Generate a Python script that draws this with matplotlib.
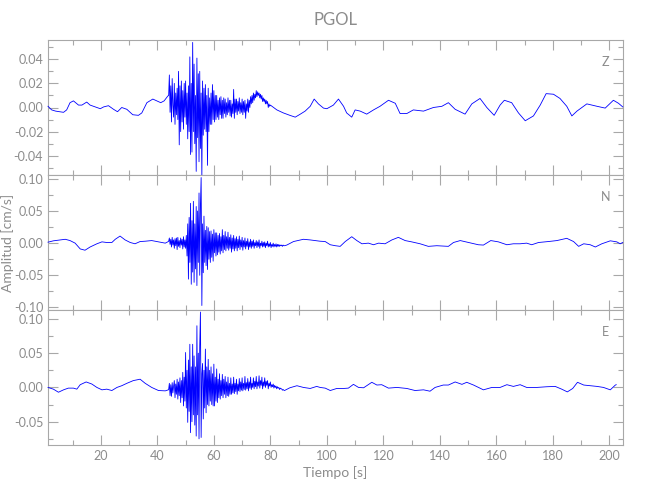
import numpy as np
import matplotlib
matplotlib.use("Agg")
import matplotlib.pyplot as plt
from matplotlib.ticker import MultipleLocator, FormatStrFormatter

plt.rcParams['font.family'] = ['Lato', 'DejaVu Sans']
plt.rcParams['font.weight'] = 'normal'

TITLE = "PGOL"
XLABEL = "Tiempo [s]"
YLABEL = "Amplitud [cm/s]"
COMPONENTS = ["Z", "N", "E"]
XLIM = (1.3, 204.8)
YLIMS = [(-0.056, 0.056), (-0.104, 0.106), (-0.084, 0.113)]
YMAJOR = [0.02, 0.05, 0.05]
YMINOR = [0.01, 0.025, 0.025]

# ---- values in units of 1e-3 cm/s, times in s ----
# Z component
z_pre_t = [1.3, 2.6, 4.0, 6.8, 7.9, 9.1, 10.3, 12.1, 13.3, 15.0, 16.2, 18.6, 19.8, 21.0,
           22.7, 24.5, 25.9, 27.4, 29.2, 31.3, 33.3, 34.5, 36.3, 38.4, 39.8, 41.2, 42.4, 43.7]
z_pre_v = [1, -2, -3, -4, -2, 4, 5.5, 2, 2, 4.5, 2, 0, -1, 0.5,
           1.5, -1.5, -3.5, 0, -1.5, -6, -6.5, -4.5, 4, 7, 5.5, 4, 5.5, 9.5]
z_burst_t0, z_burst_dt = 44.0, 0.25
z_burst_v = [10, 27, -4, 18, -12, 24, 2, -8, 20, -14, 12, -6, 16, -10, 30, -31,
             18, -20, 22, -12, 14, -18, 20, -8, 22, -14, 12, -26, 18, -20, 42, -39,
             20, -37, 54, -20, 36, -30, 10, -53, 41, -25, 28, -45, 30, -34, 12, -58,
             22, -23, 16, -18, 19, -20, 10, -48, 16, -20, 8, -14, 12, -14, 19, -10,
             14, -12, 10, -10, 10, -8, 6, -10, 8, -6, 9, -9, 6, -9, 8, -5,
             7, -8, 4, -6, 8, -4, 6, -7, 6, -8, 3, -5, 15, -9, 7, -4,
             7, -6, 5, -3, 8, -5, 4, -4, 7, -6, 5, -4, 6, -9, 3, -3,
             7, -4, 6, 0, 9, 3, 10, 4, 12, 6, 11, 8, 14, 9, 13, 10,
             12, 8, 11, 7, 10, 5, 8, 5, 7, 3, 6, 3, 5, 0, 3, 1, 2]
z_post_t = [82.3, 84.6, 86.9, 88.8, 90.6, 92.3, 94.1, 95.5, 97.0, 98.8, 100.0, 102.3, 104.1,
            105.9, 107.0, 108.8, 110.0, 111.8, 114.1, 116.5, 118.8, 121.8, 124.2, 125.9,
            128.3, 130.6, 134.2, 137.7, 140.7, 143.0, 145.4, 148.9, 151.3, 154.2, 156.6,
            159.2, 161.3, 162.8, 165.4, 167.8, 170.2, 173.1, 175.5, 177.6, 180.2, 182.5,
            184.9, 186.7, 188.5, 192.0, 195.6, 198.5, 201.4, 203.2, 204.7]
z_post_v = [-2, -4.5, -6.5, -8, -5.5, -3, 1, 7, 3, -0.5, -1, 2, 7,
            1, -4.5, -8, -2, -3, -5.5, -2, 1, 6, 3.5, -5,
            -5, -2, -3, 0, 1, 4, -1.5, -5.5, 3, 7.5, 0,
            -6.5, 2, 6, 4, -4.5, -11, -7, 2, 11.5, 11, 7.5,
            1, -7, -3, 3, 1, -0.5, 6, 3.5, 0.5]

# N component
n_pre_t = [1.3, 3.2, 5.6, 7.4, 9.1, 10.9, 12.7, 14.4, 16.2, 18.6, 20.4, 22.1, 23.9, 25.1,
           26.8, 28.6, 30.4, 32.1, 33.9, 35.7, 38.0, 40.4, 42.8, 43.9]
n_pre_v = [1.5, 3.6, 5, 6, 4, 0, -9, -11, -6, -1, 2, 1, 1, 6,
           11, 5, 1, -1, 2.5, 3, 4, 2, 0, 2.5]
n_burst_t0, n_burst_dt = 44.0, 0.25
n_burst_v = [3, 8, -2, 6, -6, 9, -3, 5, -8, 7, -4, 8, -10, 9, -5, 4,
             -7, 8, -3, 6, -9, 10, -6, 5, -8, 12, -20, 30, -56, 40, -30, 62,
             -64, 35, -45, 65, -61, 30, -40, 57, -66, 50, -30, 78, -50, 60, 102, -97,
             30, -46, 42, -30, 20, -35, 26, -41, 24, -25, 18, -30, 19, -22, 14, -28,
             21, -15, 16, -20, 16, -18, 12, -14, 15, -17, 10, -12, 21, -15, 12, -10,
             18, -12, 10, -8, 17, -11, 9, -8, 13, -14, 8, -9, 12, -12, 7, -8,
             10, -12, 6, -7, 11, -10, 5, -6, 9, -11, 4, -6, 8, -9, 3, -5,
             7, -10, 2, -6, 6, -8, 3, -5, 5, -8, 1, -4, 4, -7, 2, -5,
             5, -8, 0, -4, 3, -6, 1, -5, 2, -7, 0, -4, 3, -6, -1, -5,
             1, -7, -2, -5, 0, -6, -2, -5, -1, -6, -2, -5, -2, -5, -3, -4,
             -3, -5, -3, -4, -4]
n_post_t = [85.8, 88.2, 91.7, 94.1, 97.6, 99.4, 101.2, 103.0, 104.7, 106.5, 108.8, 110.6,
            112.4, 114.7, 116.5, 118.3, 120.6, 123.0, 125.3, 127.7, 130.0, 133.0, 135.9,
            138.9, 143.0, 144.8, 147.2, 150.1, 153.6, 155.4, 158.0, 160.7, 163.7, 166.0,
            168.4, 170.7, 172.5, 174.9, 178.4, 181.4, 184.9, 187.3, 189.1, 190.9, 193.2,
            195.0, 197.3, 200.3, 202.6, 203.8, 204.7]
n_post_v = [-3, 2.5, 6, 5, 3, 2.5, -2.5, -4, -5, 2.5, 10, 4,
            -1, 0, -2.5, 0, -1, 5, 9, 4, 2, -1, -5,
            -4, -5, 1, 4, 1, -2.5, -3, 4, 2, -2.5, -1,
            -1, 0, -2.5, 1, 2.5, 4, 7.5, 2.5, -5, -1, -2.5,
            -6, -1, 3.6, 2, -1, 1]

# E component
e_pre_t = [1.3, 3.2, 5.0, 6.8, 8.5, 10.3, 11.5, 12.7, 14.8, 16.8, 18.6, 20.4, 22.1, 23.9,
           25.7, 27.4, 29.2, 31.5, 33.9, 35.7, 38.0, 40.4, 42.8, 43.9]
e_pre_v = [0, -2.5, -7, -3.5, -1, -1, -2.5, 4, 8, 5, 0, -3.5, -2.5, -4.5,
           0, 2.5, 6, 10, 12, 6, 0, -4.5, -5, -3.5]
e_burst_t0, e_burst_dt = 44.0, 0.25
e_burst_v = [-3, 6, -12, 4, -13, 7, -8, 2, 10, -15, 5, -10, 12, -17, 8, -12,
             14, -22, 10, -15, 22, -27, 15, -20, 51, -30, 25, -51, 40, -35, 63, -66,
             30, -50, 63, -40, 46, -55, 30, -71, 90, -40, 50, -75, 60, 110, -73, 20,
             35, -46, 25, -30, 56, -37, 30, -25, 41, -27, 25, -20, 30, -25, 20, -27,
             34, -27, 15, -20, 27, -22, 12, -15, 20, -17, 10, -12, 19, -15, 12, -10,
             16, -15, 8, -12, 15, -13, 6, -10, 14, -10, 5, -8, 15, -9, 6, -6,
             12, -10, 5, -5, 13, -6, 8, -4, 14, -5, 6, -3, 16, -4, 7, -2,
             13, -5, 8, -1, 15, -3, 6, 0, 14, -2, 9, 1, 16, -2, 8, 2,
             17, -1, 10, 3, 15, -2, 8, 2, 14, 0, 9, 3, 10, -2, 6, 2,
             8, 0, 4, 1, 5, -1, 3, 0, 2, -2, 1, -1, 0, -3, -1, -2,
             -2, -4, -3, -4, -4.5]
e_post_t = [86.9, 89.4, 91.7, 94.1, 96.4, 97.6, 99.4, 101.2, 103.5, 105.9, 107.6, 109.4,
            111.2, 113.0, 115.9, 117.7, 119.4, 121.8, 124.8, 128.3, 131.2, 134.2, 136.5,
            138.3, 141.2, 143.0, 145.4, 147.8, 149.5, 151.9, 155.4, 158.4, 161.3, 163.7,
            166.0, 168.4, 170.7, 174.3, 177.8, 180.8, 183.1, 185.1, 187.0, 188.7, 190.9,
            193.2, 195.6, 197.9, 200.3, 202.1, 202.4]
e_post_v = [-0.5, 2.5, 0, -1.5, 1.5, 0, -1, -4.5, -1.5, -1.5, -1, 4.5,
            0, -0.5, 7.5, 3.5, 4, -1, 0, -1.5, -4.5, -3.5, -5.5,
            0, 3.5, 3.5, 8, 4.5, 7.5, 3.5, -3.5, 0, 0, 4,
            1.5, 4, 0, 0, 1, 1.5, -2.5, -6.5, -1.5, 7.5, 3.5,
            2.5, 1.5, 0, -3.5, 3.5, 4]


def build(pre_t, pre_v, t0, dt, burst_v, post_t, post_v):
    bt = t0 + dt * np.arange(len(burst_v))
    t = np.concatenate([pre_t, bt, post_t])
    v = np.concatenate([pre_v, burst_v, post_v]) * 1e-3
    return t, v


traces = [
    build(z_pre_t, z_pre_v, z_burst_t0, z_burst_dt, z_burst_v, z_post_t, z_post_v),
    build(n_pre_t, n_pre_v, n_burst_t0, n_burst_dt, n_burst_v, n_post_t, n_post_v),
    build(e_pre_t, e_pre_v, e_burst_t0, e_burst_dt, e_burst_v, e_post_t, e_post_v),
]

GRAY = "#8c8c8c"
FRAME = "#a8a8a8"
fig = plt.figure(figsize=(6.5, 5.0), dpi=100)
left, width, h = 48 / 650, 575 / 650, 135 / 500
bottoms = [1 - 175 / 500, 1 - 310 / 500, 1 - 445 / 500]

for i, (comp, (t, v)) in enumerate(zip(COMPONENTS, traces)):
    ax = fig.add_axes([left, bottoms[i], width, h])
    ax.plot(t, v, color="#0000ff", lw=0.6, clip_on=False, zorder=3)
    ax.set_xlim(*XLIM)
    ax.set_ylim(*YLIMS[i])
    ax.xaxis.set_major_locator(MultipleLocator(20))
    ax.xaxis.set_minor_locator(MultipleLocator(10))
    ax.yaxis.set_major_locator(MultipleLocator(YMAJOR[i]))
    ax.yaxis.set_minor_locator(MultipleLocator(YMINOR[i]))
    ax.yaxis.set_major_formatter(FormatStrFormatter("%.2f"))
    ax.tick_params(which="both", direction="in", top=True, right=True,
                   color=FRAME, labelcolor=GRAY, labelsize=9, width=0.8)
    ax.tick_params(which="major", length=7)
    ax.tick_params(which="minor", length=3.5)
    for s in ax.spines.values():
        s.set_color(FRAME)
        s.set_linewidth(0.8)
    if i < 2:
        ax.tick_params(labelbottom=False)
    ax.text(0.970, 0.84, comp, transform=ax.transAxes, ha="center", va="center",
            color=GRAY, fontsize=9)
    if i == 0:
        ax.set_title(TITLE, color=GRAY, fontsize=12, pad=11)
    if i == 2:
        ax.set_xlabel(XLABEL, color=GRAY, fontsize=10, labelpad=3)

fig.text(8 / 650, 1 - 243 / 500, YLABEL, rotation=90, ha="center", va="center",
         color=GRAY, fontsize=10)

fig.savefig("out.png", dpi=100)
